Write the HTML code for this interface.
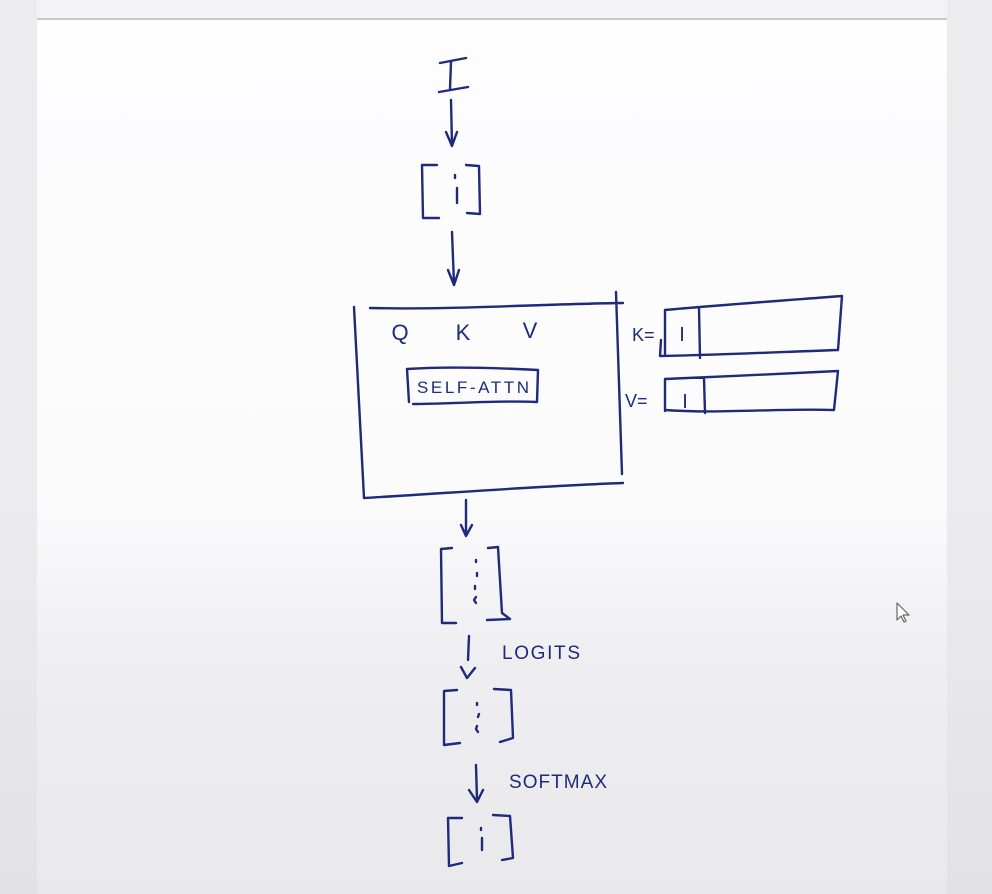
<!DOCTYPE html>
<html><head><meta charset="utf-8"><style>
html,body{margin:0;padding:0;width:992px;height:894px;overflow:hidden;background:#ebebee;}
#wrap{position:absolute;left:0;top:0;width:992px;height:894px;background:linear-gradient(#ececef 0%,#ececef 55%,#e2e2e6 100%);}
#page{position:absolute;left:37px;top:0;width:910px;height:894px;background:linear-gradient(#fdfdfe 0%,#fbfbfc 55%,#eeeef1 75%,#e9e9ec 100%);}
#topbar{position:absolute;left:37px;top:0;width:910px;height:18px;background:#f3f3f5;border-bottom:2px solid #c8c8cc;}
svg{position:absolute;left:0;top:0;}
text{font-family:"Liberation Sans",sans-serif;fill:#1f2a7a;}
</style></head><body>
<div id="wrap"></div>
<div id="page"></div>
<div id="topbar"></div>
<svg width="992" height="894" viewBox="0 0 992 894">
<g fill="none" stroke="#1f2a7a" stroke-width="2.4" stroke-linecap="round" stroke-linejoin="round">
  <g>
    <path d="M440 63 L466 58 M451 62 L450 89 M439 92 L468 87"/>
  </g>
  <g><path d="M451 100 L452 145 M446 132 L452 146 L457 132"/></g>
  <g>
    <path d="M437 165 L422 165 L423 218 L439 218 M466 165 L479 166 L480 214 L467 213"/>
    <path d="M455 175 L455 178 M457 188 L457 203"/>
  </g>
  <g><path d="M452 232 L454 284 M448 270 L454 285 L459 270"/></g>
  <g>
    <path d="M370 308 C450 310 540 304 623 303 M354 307 L364 498 C450 493 540 486 623 483 M616 292 L622 474"/>
  </g>
  <g>
    <path d="M407 369 C450 366 500 368 538 370 L537 402 C500 400 450 404 413 404 M407 369 L409 402"/>
  </g>
  <g>
    <path d="M665 310 C720 305 790 300 842 296 L838 350 C780 352 720 355 660 356 L661 340 M665 310 L665 354 M699 308 L700 358"/>
  </g>
  <g>
    <path d="M665 379 C720 377 790 373 838 371 L834 410 C780 408 720 414 665 410 M665 379 L665 411 M704 378 L705 413"/>
  </g>
  <g><path d="M466 500 L466 535 M461 525 L466 536 L472 525"/></g>
  <g>
    <path d="M452 548 L441 549 L442 623 L456 623 M488 548 L498 547 L502 613 L510 619 L487 620"/>
    <path d="M476 560 L476 562 M477 573 L477 576 M475 586 L475 589 M476 597 L474 600 L476 603"/>
  </g>
  <g><path d="M469 636 L468 660 M461 667 L467 678 L475 668"/></g>
  <g>
    <path d="M457 690 L444 691 L444 745 L460 743 M494 689 L511 690 L513 738 L500 742"/>
    <path d="M477 703 L477 705 M479 714 L478 717 M477 726 L476 729 L478 732"/>
  </g>
  <g><path d="M476 765 L477 800 M469 790 L477 802 L483 790"/></g>
  <g>
    <path d="M462 818 L448 818 L449 866 L462 863 M493 815 L510 816 L513 858 L502 860"/>
    <path d="M481 828 L481 830 M482 838 L482 850"/>
  </g>
  <g stroke="#666" stroke-width="1.2" fill="#fff">
    <path d="M897 603 L897 620 L901 616 L904 622 L906 621 L903 615 L909 615 Z"/>
  </g>
</g>
<text x="400" y="340" font-size="22" text-anchor="middle">Q</text>
<text x="463" y="340" font-size="22" text-anchor="middle">K</text>
<text x="530" y="338" font-size="22" text-anchor="middle">V</text>
<text x="473" y="393" font-size="17" text-anchor="middle" textLength="112">SELF-ATTN</text>
<text x="632" y="341" font-size="18">K=</text>
<text x="682" y="341" font-size="20" text-anchor="middle">I</text>
<text x="625" y="407" font-size="18">V=</text>
<text x="685" y="408" font-size="20" text-anchor="middle">I</text>
<text x="502" y="659" font-size="19" textLength="78">LOGITS</text>
<text x="509" y="788" font-size="19" textLength="98">SOFTMAX</text>
</svg>
</body></html>
